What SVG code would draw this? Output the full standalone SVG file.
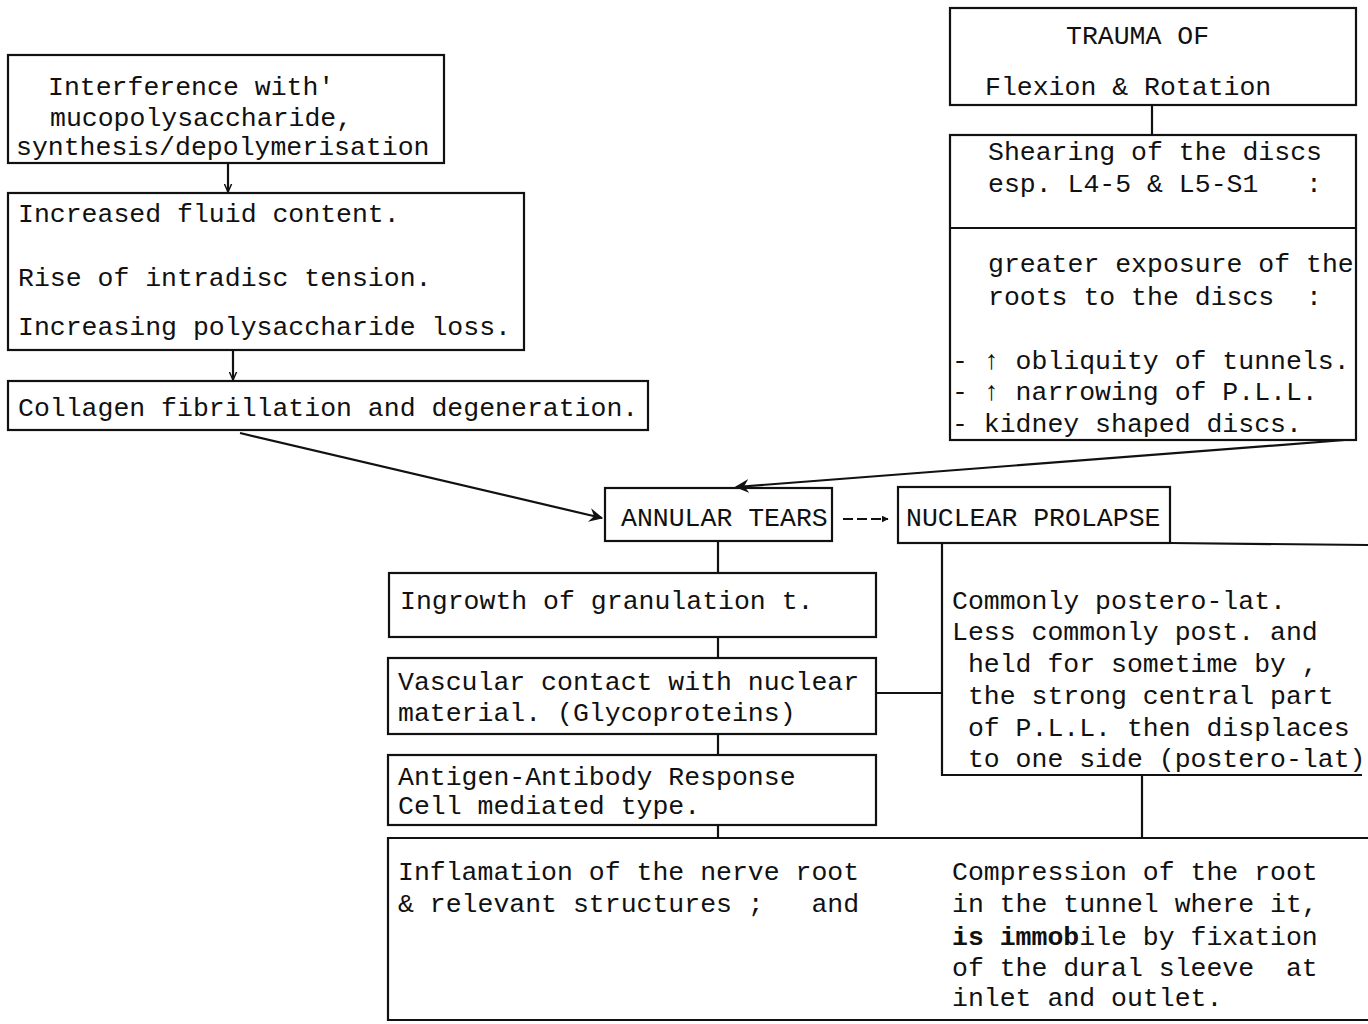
<svg xmlns="http://www.w3.org/2000/svg" width="1368" height="1024" viewBox="0 0 1368 1024">
<style>
.b{fill:none;stroke:#111;stroke-width:2.2}
.c{fill:none;stroke:#111;stroke-width:2.2}
text{font-family:"Liberation Mono","DejaVu Sans Mono",monospace;font-size:26.5px;fill:#111;white-space:pre}
.bold{font-weight:bold}
</style>
<defs>
<marker id="ah" viewBox="0 0 10 10" refX="9" refY="5" markerWidth="7" markerHeight="7" orient="auto" markerUnits="userSpaceOnUse">
<path d="M0,0 L10,5 L0,10 z" fill="#111"/>
</marker>
<marker id="av" viewBox="0 0 10 10" refX="9" refY="5" markerWidth="9" markerHeight="9" orient="auto" markerUnits="userSpaceOnUse">
<path d="M0,1 L9,5 L0,9" fill="none" stroke="#111" stroke-width="1.6"/>
</marker>
<marker id="big" viewBox="0 0 12 12" refX="11" refY="6" markerWidth="14" markerHeight="14" orient="auto" markerUnits="userSpaceOnUse">
<path d="M0,0 L12,6 L0,12 L4,6 z" fill="#111"/>
</marker>
</defs>
<rect width="1368" height="1024" fill="#fff"/>

<g id="connectors">
<line class="c" x1="228" y1="163" x2="228" y2="192" marker-end="url(#av)"/>
<line class="c" x1="233" y1="350" x2="233" y2="380" marker-end="url(#av)"/>
<line class="c" x1="240" y1="433" x2="602" y2="518" marker-end="url(#big)"/>
<line class="c" x1="1345" y1="440" x2="736" y2="487" marker-end="url(#big)"/>
<line class="c" x1="843" y1="519" x2="888" y2="519" stroke-dasharray="10,4" marker-end="url(#ah)"/>
<line class="c" x1="1152" y1="105" x2="1152" y2="135"/>
<line class="c" x1="718" y1="541" x2="718" y2="573"/>
<line class="c" x1="718" y1="637" x2="718" y2="658"/>
<line class="c" x1="876" y1="693" x2="942" y2="693"/>
<line class="c" x1="718" y1="734" x2="718" y2="755"/>
<line class="c" x1="718" y1="825" x2="718" y2="838"/>
<line class="c" x1="1142" y1="775" x2="1142" y2="838"/>
<line class="c" x1="1170" y1="543" x2="1368" y2="545"/>
</g>

<g id="n_interference">
<rect class="b" x="8" y="55" width="436" height="108"/>
<text x="48" y="95">Interference with'</text>
<text x="50" y="126">mucopolysaccharide,</text>
<text x="16" y="155">synthesis/depolymerisation</text>
</g>

<g id="n_fluid">
<rect class="b" x="8" y="193" width="516" height="157"/>
<text x="18" y="222">Increased fluid content.</text>
<text x="18" y="286">Rise of intradisc tension.</text>
<text x="18" y="335">Increasing polysaccharide loss.</text>
</g>

<g id="n_collagen">
<rect class="b" x="8" y="381" width="640" height="49"/>
<text x="18" y="416">Collagen fibrillation and degeneration.</text>
</g>

<g id="n_trauma">
<rect class="b" x="950" y="8" width="406" height="97"/>
<text x="1066" y="44">TRAUMA OF</text>
<text x="985" y="95">Flexion &amp; Rotation</text>
</g>

<g id="n_shearing">
<rect class="b" x="950" y="135" width="406" height="305"/>
<line class="b" x1="950" y1="228" x2="1356" y2="228"/>
<text x="988" y="160">Shearing of the discs</text>
<text x="988" y="192">esp. L4-5 &amp; L5-S1   :</text>
<text x="988" y="272">greater exposure of the</text>
<text x="988" y="305">roots to the discs  :</text>
<text x="952" y="369">- ↑ obliquity of tunnels.</text>
<text x="952" y="400">- ↑ narrowing of P.L.L.</text>
<text x="952" y="432">- kidney shaped discs.</text>
</g>

<g id="n_annular">
<rect class="b" x="605" y="488" width="227" height="53"/>
<text x="621" y="526">ANNULAR TEARS</text>
</g>

<g id="n_prolapse">
<rect class="b" x="898" y="487" width="272" height="56"/>
<text x="906" y="526">NUCLEAR PROLAPSE</text>
</g>

<g id="n_ingrowth">
<rect class="b" x="389" y="573" width="487" height="64"/>
<text x="400" y="609">Ingrowth of granulation t.</text>
</g>

<g id="n_vascular">
<rect class="b" x="388" y="658" width="488" height="76"/>
<text x="398" y="690">Vascular contact with nuclear</text>
<text x="398" y="721">material. (Glycoproteins)</text>
</g>

<g id="n_antigen">
<rect class="b" x="388" y="755" width="488" height="70"/>
<text x="398" y="785">Antigen-Antibody Response</text>
<text x="398" y="814">Cell mediated type.</text>
</g>

<g id="n_commonly">
<polyline class="b" points="942,543 942,775 1362,775"/>
<text x="952" y="609">Commonly postero-lat.</text>
<text x="952" y="640">Less commonly post. and</text>
<text x="952" y="672"> held for sometime by ,</text>
<text x="952" y="704"> the strong central part</text>
<text x="952" y="736"> of P.L.L. then displaces</text>
<text x="952" y="767"> to one side (postero-lat)</text>
</g>

<g id="n_bottom">
<polyline class="b" points="1368,838 388,838 388,1020 1368,1020"/>
<text x="398" y="880">Inflamation of the nerve root</text>
<text x="398" y="912">&amp; relevant structures ;   and</text>
<text x="952" y="880">Compression of the root</text>
<text x="952" y="912">in the tunnel where it,</text>
<text x="952" y="945"><tspan class="bold">is immob</tspan>ile by fixation</text>
<text x="952" y="976">of the dural sleeve  at</text>
<text x="952" y="1006">inlet and outlet.</text>
</g>
</svg>
